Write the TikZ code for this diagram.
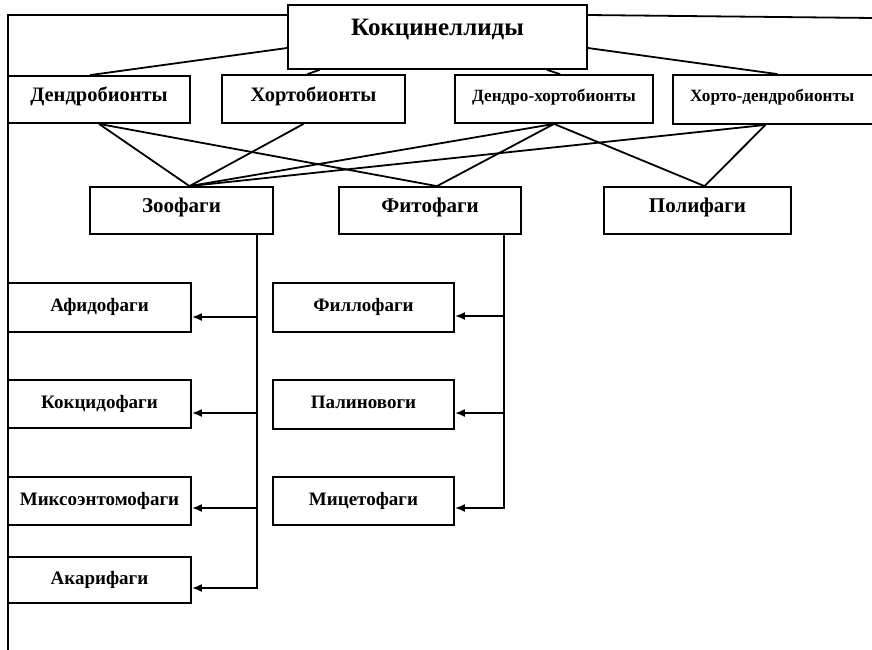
\documentclass[tikz,border=0pt]{standalone}
\usepackage{fontspec}
\setmainfont{Liberation Serif}
\usetikzlibrary{arrows.meta,calc}

\begin{document}
\begin{tikzpicture}[x=1pt,y=-1pt]
\tikzstyle{box}=[draw,rectangle,line width=1.8pt,inner sep=0pt,text height=12pt,text depth=8pt,font=\bfseries\fontsize{20.5}{20.5}\selectfont]
\tikzstyle{small}=[font=\bfseries\fontsize{17.2}{17.2}\selectfont]
\tikzstyle{leaf}=[text depth=4pt,font=\bfseries\fontsize{19}{19}\selectfont]
\tikzstyle{line}=[line width=1.8pt]
\tikzstyle{arr}=[line width=1.8pt,-{Latex[length=10pt,width=8pt]}]
\useasboundingbox (0,0) rectangle (872,649);
% frame
\coordinate (fb) at (8,652);
\coordinate (ft) at (8,15);
\coordinate (fr) at (874,18);
% top
\node[box,minimum width=299pt,minimum height=64pt,text height=16pt,text depth=20pt,font=\bfseries\fontsize{25}{25}\selectfont] (cocc) at (437.5,37) {Кокцинеллиды};
\draw[line] (fb) -- (ft) -- (ft -| cocc.west);
\draw[line] (cocc.east |- ft) -- (fr);
% habitat
\node[box,minimum width=182pt,minimum height=47pt] (d1) at (99,99.5) {Дендробионты};
\node[box,minimum width=183pt,minimum height=48pt] (d2) at (313.5,99) {Хортобионты};
\node[box,small,minimum width=198pt,minimum height=48pt] (d3) at (554,99) {Дендро-хортобионты};
\node[box,small,inner xsep=17pt,text width=175pt,align=left,minimum height=49pt] (d4) at (777.5,99.5) {Хорто-дендробионты};
\draw[line] ([yshift=-11pt]cocc.west) -- ([xshift=-9pt]d1.north);
\draw[line] ($(d2.north |- cocc.south)+(6,0)$) -- ([xshift=-6pt]d2.north);
\draw[line] ($(d3.north |- cocc.south)+(-7,0)$) -- ([xshift=6pt]d3.north);
\draw[line] ([yshift=-11pt]cocc.east) -- (d4.north);
% food
\node[box,font=\bfseries\fontsize{21}{21}\selectfont,minimum width=183pt,minimum height=47pt] (zoo) at (181.5,210.5) {Зоофаги};
\node[box,font=\bfseries\fontsize{21}{21}\selectfont,minimum width=182pt,minimum height=47pt] (fit) at (430,210.5) {Фитофаги};
\node[box,font=\bfseries\fontsize{21}{21}\selectfont,minimum width=187pt,minimum height=47pt] (pol) at (697.5,210.5) {Полифаги};
\coordinate (zt) at ([xshift=8pt]zoo.north);
\coordinate (ftp) at ([xshift=7pt]fit.north);
\coordinate (pt) at ([xshift=7pt]pol.north);
\draw[line] (d1.south) -- (zt);
\draw[line] (d1.south) -- (ftp);
\draw[line] ([xshift=-10pt]d2.south) -- (zt);
\draw[line] (d3.south) -- (zt);
\draw[line] (d3.south) -- (ftp);
\draw[line] (d3.south) -- (pt);
\draw[line] ([xshift=-12pt]d4.south) -- (zt);
\draw[line] ([xshift=-12pt]d4.south) -- (pt);
% zoophages
\node[box,leaf,minimum width=183pt,minimum height=49pt] (afi) at (99.5,307.5) {Афидофаги};
\node[box,leaf,minimum width=183pt,minimum height=48pt] (kok) at (99.5,404) {Кокцидофаги};
\node[box,leaf,minimum width=183pt,minimum height=48pt] (mik) at (99.5,501) {Миксоэнтомофаги};
\node[box,leaf,minimum width=183pt,minimum height=46pt] (aka) at (99.5,580) {Акарифаги};
\coordinate (z1) at (257,317);
\coordinate (z2) at (257,413);
\coordinate (z3) at (257,508);
\coordinate (z4) at (257,588);
\draw[arr] (zoo.south -| z4) -- (z4) -- (z4 -| aka.east);
\draw[arr] (z1) -- (z1 -| afi.east);
\draw[arr] (z2) -- (z2 -| kok.east);
\draw[arr] (z3) -- (z3 -| mik.east);
% phytophages
\node[box,leaf,minimum width=181pt,minimum height=49pt] (fil) at (363.5,307.5) {Филлофаги};
\node[box,leaf,minimum width=181pt,minimum height=49pt] (pal) at (363.5,404.5) {Палиновоги};
\node[box,leaf,minimum width=181pt,minimum height=48pt] (mic) at (363.5,501) {Мицетофаги};
\coordinate (f1) at (504,316);
\coordinate (f2) at (504,413);
\coordinate (f3) at (504,508);
\draw[arr] (fit.south -| f3) -- (f3) -- (f3 -| mic.east);
\draw[arr] (f1) -- (f1 -| fil.east);
\draw[arr] (f2) -- (f2 -| pal.east);
\end{tikzpicture}
\end{document}
